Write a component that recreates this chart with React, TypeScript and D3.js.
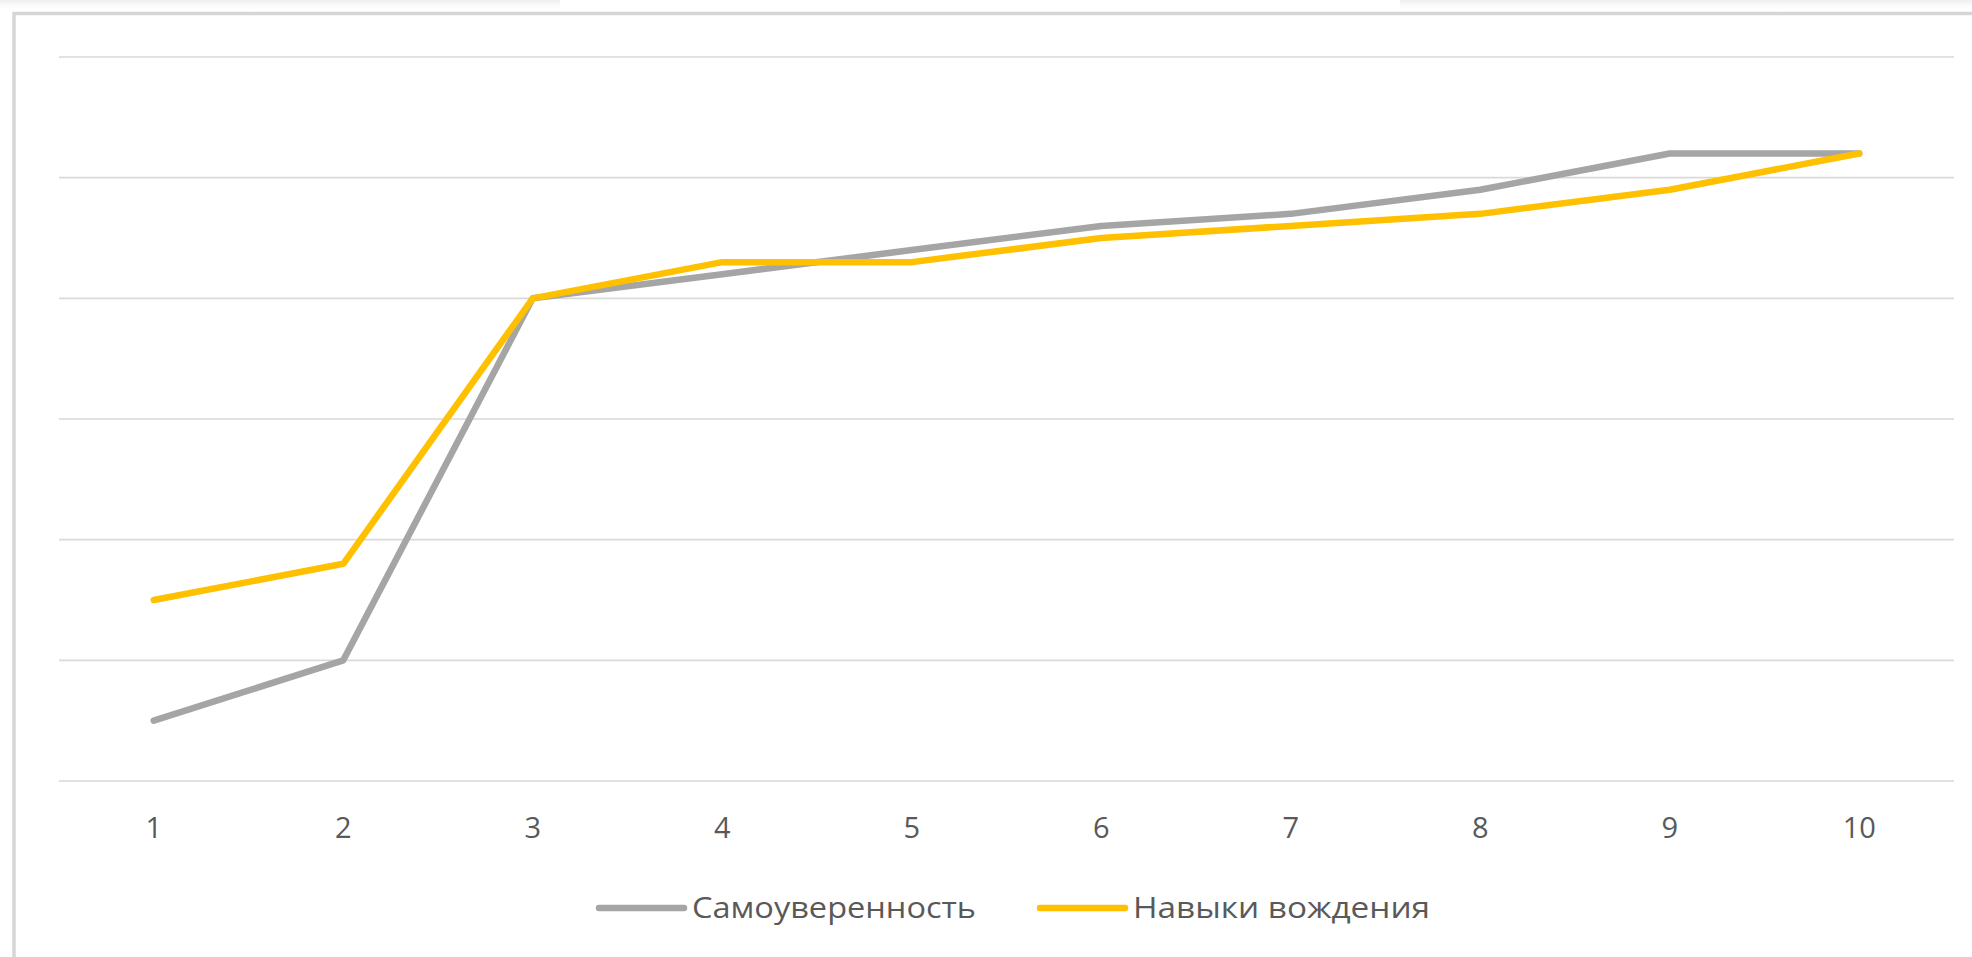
import React from "react";
import * as d3 from "d3";

const categories = ["1", "2", "3", "4", "5", "6", "7", "8", "9", "10"];
const seriesNames = ["Самоуверенность", "Навыки вождения"];
const confidence = [0.5, 1.0, 4.0, 4.2, 4.4, 4.6, 4.7, 4.9, 5.2, 5.2];
const drivingSkills = [1.5, 1.8, 4.0, 4.3, 4.3, 4.5, 4.6, 4.7, 4.9, 5.2];
const yTicks = [0, 1, 2, 3, 4, 5, 6];
const colors = ["#A5A5A5", "#FFC000"];

const W = 1972;
const H = 957;
const FONT = "'Open Sans', 'Noto Sans', sans-serif";

export default function App() {
  const x = d3.scaleBand<string>().domain(categories).range([59, 1954]);
  const y = d3.scaleLinear().domain([0, 6]).range([781, 57]);
  const line = d3
    .line<number>()
    .x((_, i) => (x(categories[i]) as number) + x.bandwidth() / 2)
    .y((d) => y(d));
  const series = [confidence, drivingSkills];
  const legendX = [599, 1040];
  const legendTextW = [284, 297];

  return (
    <svg
      width={W}
      height={H}
      style={{ position: "absolute", left: 0, top: 0, background: "#fff" }}
    >
      <defs>
        <linearGradient id="shadow" x1="0" y1="0" x2="0" y2="1">
          <stop offset="0" stopColor="#ececf0" stopOpacity="0.9" />
          <stop offset="1" stopColor="#ffffff" stopOpacity="0" />
        </linearGradient>
      </defs>
      <rect x={0} y={0} width={560} height={11} fill="url(#shadow)" />
      <rect x={1400} y={0} width={572} height={11} fill="url(#shadow)" />
      <rect x={0} y={11} width={W} height={H} fill="#fff" />
      <path
        d={`M14,${H + 5} L14,13.5 L${W + 5},13.5`}
        fill="none"
        stroke="#d6d6d6"
        strokeWidth={3.5}
      />
      {yTicks.map((t) => (
        <line
          key={t}
          x1={59}
          x2={1954}
          y1={y(t)}
          y2={y(t)}
          stroke="#d9d9d9"
          strokeWidth={1.6}
        />
      ))}
      {categories.map((c) => (
        <text
          key={c}
          x={(x(c) as number) + x.bandwidth() / 2}
          y={838}
          textAnchor="middle"
          fontFamily={FONT}
          fontSize={29}
          fill="#595959"
        >
          {c}
        </text>
      ))}
      {series.map((s, i) => (
        <path
          key={i}
          d={line(s) as string}
          fill="none"
          stroke={colors[i]}
          strokeWidth={6.5}
          strokeLinecap="round"
          strokeLinejoin="round"
        />
      ))}
      {seriesNames.map((n, i) => {
        const lx = legendX[i];
        return (
          <g key={n}>
            <line
              x1={lx}
              x2={lx + 85}
              y1={908}
              y2={908}
              stroke={colors[i]}
              strokeWidth={6.5}
              strokeLinecap="round"
            />
            <text
              x={lx + 93}
              y={918}
              fontFamily={FONT}
              fontSize={28.5}
              fill="#595959"
              textLength={legendTextW[i]}
              lengthAdjust="spacingAndGlyphs"
            >
              {n}
            </text>
          </g>
        );
      })}
    </svg>
  );
}
